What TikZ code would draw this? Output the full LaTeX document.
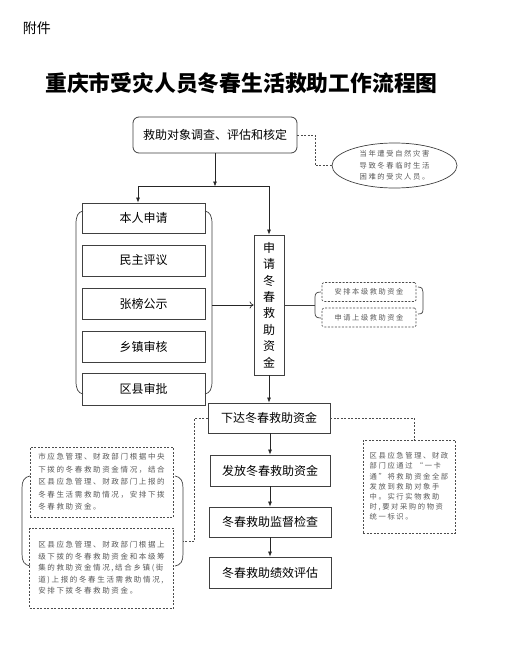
\documentclass[tikz,border=0pt]{standalone}
\usepackage{fontspec}
\usepackage{tikz}
\usetikzlibrary{arrows.meta,shapes.geometric}
\newfontfamily\hei{Noto Sans CJK SC}
\newfontfamily\song[LetterSpace=22]{Noto Sans CJK SC}

\begin{document}
\begin{tikzpicture}[x=1pt,y=-1pt,
	cadre/.style={draw=black!75,line width=0.8pt,minimum width=122pt,minimum height=30pt,inner sep=0pt,font=\hei\fontsize{12}{12}\selectfont},
	xukuang/.style={draw=black!70,dash pattern=on 2pt off 1.5pt,line width=0.7pt,inner sep=0pt,align=left,text=black!65},
	jiantou/.style={-{Latex[length=5pt,width=4pt]},draw=black!85,line width=0.7pt},
	xuxian/.style={draw=black!70,dash pattern=on 2pt off 1.5pt,line width=0.7pt},
	kuohao/.style={draw=black!75,line width=0.7pt}]
	%
	% Cadre de la page
	\fill[white] (0,0) rectangle (518,651);
	\useasboundingbox (0,0) rectangle (518,651);
	%
	% Titre
	\node[font=\hei\fontsize{14}{14}\selectfont] (fujian) at (37,28) {附件};
	\node[font=\hei\bfseries\fontsize{21.8}{21.8}\selectfont] (titre) at (241.5,83) {重庆市受灾人员冬春生活救助工作流程图};
	%
	% Haut : enquete et ellipse
	\node[cadre,rounded corners=6pt,minimum width=164pt,minimum height=36pt] (hecha) at (215,135) {救助对象调查、评估和核定};
	\node[ellipse,draw=black!75,line width=0.7pt,minimum width=125pt,minimum height=45pt,inner sep=0pt,align=center,text=black!65,font=\song\fontsize{7.3}{11.5}\selectfont] (duixiang) at (394.5,165.5) {当年遭受自然灾害\\导致冬春临时生活\\困难的受灾人员。};
	\draw[xuxian] (hecha.east) -- ++(18,0) |- (duixiang.west);
	%
	% Colonne de gauche
	\node[cadre,minimum width=123pt] (benren) at (143.5,218) {本人申请};
	\node[cadre,minimum width=123pt,minimum height=31pt] (minzhu) at (143.5,260.5) {民主评议};
	\node[cadre,minimum width=123pt,minimum height=31pt] (zhangbang) at (143.5,303.5) {张榜公示};
	\node[cadre,minimum width=123pt,minimum height=31pt] (xiangzhen) at (143.5,346.5) {乡镇审核};
	\node[cadre,minimum width=123pt,minimum height=32pt] (quxianpi) at (143.5,389) {区县审批};
	\draw[kuohao] (83,211) .. controls (78,212) and (76,216) .. (76,224) -- (76,381) .. controls (76,389) and (78,393) .. (83,394);
	\draw[kuohao] (205,211) .. controls (210,212) and (212,216) .. (212,224) -- (212,381) .. controls (212,389) and (210,393) .. (205,394);
	\coordinate (youkuo) at (212,305);
	%
	% Colonne verticale
	\node[cadre,minimum width=30pt,minimum height=140pt,align=center,font=\hei\fontsize{12}{16.4}\selectfont] (shenqing) at (269,305) {申\\请\\冬\\春\\救\\助\\资\\金};
	\coordinate (fencha) at (215,186.5);
	\draw[jiantou] (hecha) -- (fencha);
	\draw[jiantou] (fencha) -| ([xshift=-5.5pt]benren.north);
	\draw[jiantou] (fencha) -| (shenqing.north);
	\draw[-{To[length=4pt,width=7pt]},draw=black!85,line width=0.7pt] (youkuo) -- (shenqing);
	%
	% Fonds
	\node[xukuang,rounded corners=1.5pt,minimum width=94pt,minimum height=19pt,font=\song\fontsize{7.2}{7.2}\selectfont] (anpai) at (369,292) {安排本级救助资金};
	\node[xukuang,rounded corners=1.5pt,minimum width=94pt,minimum height=19pt,font=\song\fontsize{7.2}{7.2}\selectfont] (shangji) at (369,317.5) {申请上级救助资金};
	\coordinate (zhongkuo) at (315,305);
	\draw[kuohao] (shenqing) -- (zhongkuo);
	\draw[kuohao] (321,292) .. controls (317,292) and (315,293) .. (315,297) -- (315,313) .. controls (315,317) and (317,318) .. (321,318);
	\draw[kuohao] (418,287) .. controls (422,287) and (423,289) .. (423,292) -- (423,309) .. controls (423,313) and (422,314) .. (418,314);
	%
	% Etapes du bas
	\node[cadre] (xiada) at (269,418) {下达冬春救助资金};
	\node[cadre,minimum width=120pt,minimum height=31pt] (fafang) at (270,470.5) {发放冬春救助资金};
	\node[cadre,minimum width=122pt] (jiancha) at (270,522) {冬春救助监督检查};
	\node[cadre,minimum width=122pt,minimum height=31pt] (pinggu) at (270,572.5) {冬春救助绩效评估};
	\draw[jiantou] (shenqing) -- (xiada);
	\draw[jiantou] (xiada.south -| fafang) -- (fafang);
	\draw[jiantou] (fafang) -- (jiancha);
	\draw[jiantou] (jiancha) -- (pinggu);
	%
	% Notes a gauche
	\node[xukuang,minimum width=143pt,minimum height=70pt,font=\song\fontsize{7.5}{12.5}\selectfont] (shiji) at (101.5,482) {市应急管理、财政部门根据中央\\下拨的冬春救助资金情况，结合\\区县应急管理、财政部门上报的\\冬春生活需救助情况，安排下拨\\冬春救助资金。};
	\node[xukuang,minimum width=144pt,minimum height=80pt,font=\song\fontsize{7.5}{11.5}\selectfont] (quxian) at (101.5,568) {区县应急管理、财政部门根据上\\级下拨的冬春救助资金和本级筹\\集的救助资金情况,结合乡镇(街\\道)上报的冬春生活需救助情况,\\安排下拨冬春救助资金。};
	\draw[kuohao] (30,476) .. controls (24,477) and (22,481) .. (22,488) -- (22,554) .. controls (22,561) and (24,565) .. (30,566);
	\draw[kuohao] (175,476) .. controls (181,477) and (183,481) .. (183,488) -- (183,554) .. controls (183,561) and (181,565) .. (175,566);
	\coordinate (zuokuo) at (183,541);
	\draw[xuxian] (xiada.west) -- ++(-13,0) |- (zuokuo);
	%
	% Note a droite
	\node[xukuang,minimum width=92pt,minimum height=93pt,font=\song\fontsize{7.3}{10.2}\selectfont] (quanbu) at (409,486.5) {区县应急管理、财政\\部门应通过 “一卡\\通”将救助资金全部\\发放到救助对象手\\中。实行实物救助\\时,要对采购的物资\\统一标识。};
	\draw[xuxian] (xiada.east) -| ([xshift=5pt]quanbu.north);
	%
	% Numero de page
	\node[font=\hei\fontsize{12}{12}\selectfont] (yema) at (31,656) {8};
\end{tikzpicture}
\end{document}
